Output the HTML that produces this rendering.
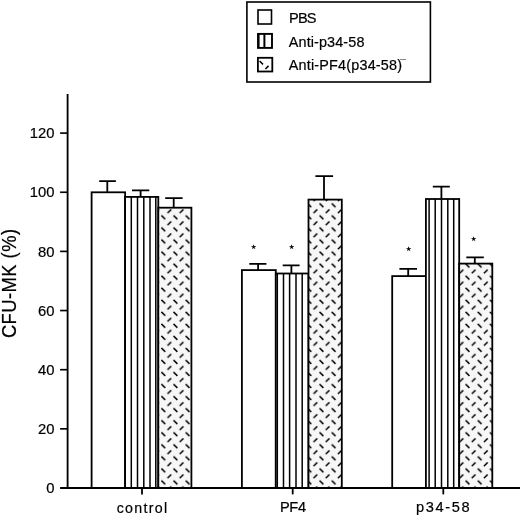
<!DOCTYPE html>
<html><head><meta charset="utf-8"><title>CFU-MK chart</title>
<style>html,body{margin:0;padding:0;background:#fff}svg{display:block}text{font-family:"Liberation Sans",sans-serif;fill:#000;stroke:#000;stroke-width:0.2px}</style>
</head><body>
<svg width="520" height="516" viewBox="0 0 520 516">
<rect x="0" y="0" width="520" height="516" fill="#fff"/>
<defs><pattern id="hb" patternUnits="userSpaceOnUse" x="160.10" y="208.20" width="12.17" height="12.05">
<path d="M7.40 4.90L11.10 1.30M1.30 7.30L5.10 11.00" stroke="#000" stroke-width="1.5" fill="none"/>
</pattern></defs>
<rect x="91.6" y="192.3" width="33.50" height="295.70" fill="#fff" stroke="#000" stroke-width="1.8"/>
<path d="M107.3 192.3V181.1M99.2 181.1H115.9" stroke="#000" stroke-width="1.8" fill="none"/>
<rect x="125.1" y="196.9" width="33.20" height="291.10" fill="#fff" stroke="#000" stroke-width="1.8"/>
<line x1="131.3" y1="196.9" x2="131.3" y2="488.0" stroke="#000" stroke-width="1.5"/>
<line x1="137.5" y1="196.9" x2="137.5" y2="488.0" stroke="#000" stroke-width="1.5"/>
<line x1="143.8" y1="196.9" x2="143.8" y2="488.0" stroke="#000" stroke-width="1.5"/>
<line x1="150.0" y1="196.9" x2="150.0" y2="488.0" stroke="#000" stroke-width="1.5"/>
<line x1="155.8" y1="196.9" x2="155.8" y2="488.0" stroke="#000" stroke-width="1.5"/>
<path d="M140.6 196.9V190.3M132.0 190.3H149.3" stroke="#000" stroke-width="1.8" fill="none"/>
<rect x="158.3" y="207.7" width="33.10" height="280.30" fill="#f7f7f7"/>
<rect x="158.3" y="207.7" width="33.10" height="280.30" fill="url(#hb)" stroke="#000" stroke-width="1.8"/>
<path d="M173.7 207.7V198.2M165.2 198.2H182.6" stroke="#000" stroke-width="1.8" fill="none"/>
<rect x="241.9" y="270.1" width="33.90" height="217.90" fill="#fff" stroke="#000" stroke-width="1.8"/>
<path d="M258.1 270.1V263.8M249.3 263.8H266.4" stroke="#000" stroke-width="1.8" fill="none"/>
<rect x="275.8" y="273.5" width="32.70" height="214.50" fill="#fff" stroke="#000" stroke-width="1.8"/>
<line x1="277.3" y1="273.5" x2="277.3" y2="488.0" stroke="#000" stroke-width="1.5"/>
<line x1="283.5" y1="273.5" x2="283.5" y2="488.0" stroke="#000" stroke-width="1.5"/>
<line x1="289.6" y1="273.5" x2="289.6" y2="488.0" stroke="#000" stroke-width="1.5"/>
<line x1="296.0" y1="273.5" x2="296.0" y2="488.0" stroke="#000" stroke-width="1.5"/>
<line x1="302.2" y1="273.5" x2="302.2" y2="488.0" stroke="#000" stroke-width="1.5"/>
<path d="M291.4 273.5V265.3M282.7 265.3H299.6" stroke="#000" stroke-width="1.8" fill="none"/>
<rect x="308.5" y="199.6" width="33.30" height="288.40" fill="#f7f7f7"/>
<rect x="308.5" y="199.6" width="33.30" height="288.40" fill="url(#hb)" stroke="#000" stroke-width="1.8"/>
<path d="M324.0 199.6V176.1M315.4 176.1H333.1" stroke="#000" stroke-width="1.8" fill="none"/>
<rect x="392.2" y="276.1" width="33.70" height="211.90" fill="#fff" stroke="#000" stroke-width="1.8"/>
<path d="M408.2 276.1V268.8M399.4 268.8H417.0" stroke="#000" stroke-width="1.8" fill="none"/>
<rect x="425.9" y="199.0" width="33.30" height="289.00" fill="#fff" stroke="#000" stroke-width="1.8"/>
<line x1="429.1" y1="199.0" x2="429.1" y2="488.0" stroke="#000" stroke-width="1.5"/>
<line x1="435.2" y1="199.0" x2="435.2" y2="488.0" stroke="#000" stroke-width="1.5"/>
<line x1="441.5" y1="199.0" x2="441.5" y2="488.0" stroke="#000" stroke-width="1.5"/>
<line x1="447.8" y1="199.0" x2="447.8" y2="488.0" stroke="#000" stroke-width="1.5"/>
<line x1="453.7" y1="199.0" x2="453.7" y2="488.0" stroke="#000" stroke-width="1.5"/>
<path d="M441.4 199.0V186.6M432.8 186.6H449.8" stroke="#000" stroke-width="1.8" fill="none"/>
<rect x="459.2" y="263.6" width="33.10" height="224.40" fill="#f7f7f7"/>
<rect x="459.2" y="263.6" width="33.10" height="224.40" fill="url(#hb)" stroke="#000" stroke-width="1.8"/>
<path d="M474.8 263.6V257.4M466.3 257.4H483.8" stroke="#000" stroke-width="1.8" fill="none"/>
<path d="M67.6 94V488.0M60.1 488.0H520" stroke="#000" stroke-width="1.85" fill="none"/>
<line x1="60.1" y1="428.85" x2="67.6" y2="428.85" stroke="#000" stroke-width="1.65"/>
<text x="54.4" y="433.95" font-size="14.8" text-anchor="end">20</text>
<line x1="60.1" y1="369.70" x2="67.6" y2="369.70" stroke="#000" stroke-width="1.65"/>
<text x="54.4" y="374.80" font-size="14.8" text-anchor="end">40</text>
<line x1="60.1" y1="310.55" x2="67.6" y2="310.55" stroke="#000" stroke-width="1.65"/>
<text x="54.4" y="315.65" font-size="14.8" text-anchor="end">60</text>
<line x1="60.1" y1="251.40" x2="67.6" y2="251.40" stroke="#000" stroke-width="1.65"/>
<text x="54.4" y="256.50" font-size="14.8" text-anchor="end">80</text>
<line x1="60.1" y1="192.25" x2="67.6" y2="192.25" stroke="#000" stroke-width="1.65"/>
<text x="54.4" y="197.35" font-size="14.8" text-anchor="end">100</text>
<line x1="60.1" y1="133.10" x2="67.6" y2="133.10" stroke="#000" stroke-width="1.65"/>
<text x="54.4" y="138.20" font-size="14.8" text-anchor="end">120</text>
<text x="54.4" y="493.10" font-size="14.8" text-anchor="end">0</text>
<line x1="142.0" y1="488.0" x2="142.0" y2="494.4" stroke="#000" stroke-width="1.8"/>
<line x1="292.7" y1="488.0" x2="292.7" y2="494.4" stroke="#000" stroke-width="1.8"/>
<line x1="443.3" y1="488.0" x2="443.3" y2="494.4" stroke="#000" stroke-width="1.8"/>
<text x="116.7" y="512.5" font-size="14.2" textLength="50.4" lengthAdjust="spacing">control</text>
<text x="280.0" y="511.5" font-size="14.6" textLength="26.0" lengthAdjust="spacing">PF4</text>
<text x="416.0" y="512.2" font-size="14.6" textLength="53.6" lengthAdjust="spacing">p34-58</text>
<text transform="translate(15.9 338.1) rotate(-90) scale(1 1.12)" font-size="18.4" textLength="109.2" lengthAdjust="spacing">CFU-MK (%)</text>
<text x="253.3" y="248.7" font-size="5.7" text-anchor="middle" stroke="none" font-family="DejaVu Sans, sans-serif">★</text>
<text x="291.3" y="248.7" font-size="5.7" text-anchor="middle" stroke="none" font-family="DejaVu Sans, sans-serif">★</text>
<text x="408.2" y="250.5" font-size="5.7" text-anchor="middle" stroke="none" font-family="DejaVu Sans, sans-serif">★</text>
<text x="473.3" y="240.6" font-size="5.7" text-anchor="middle" stroke="none" font-family="DejaVu Sans, sans-serif">★</text>
<rect x="246.9" y="2.0" width="183.5" height="80.0" fill="#fff" stroke="#000" stroke-width="1.6"/>
<rect x="258.0" y="10.0" width="13.5" height="14" fill="#fff" stroke="#000" stroke-width="1.6"/>
<rect x="258.0" y="33.9" width="14.0" height="14.0" fill="#fff" stroke="#000" stroke-width="1.9"/>
<path d="M259.0 33.9V47.9" stroke="#000" stroke-width="1.2"/>
<path d="M264.4 33.9V47.9" stroke="#000" stroke-width="2.0"/>
<rect x="257.9" y="57.8" width="14.4" height="13.7" fill="#fff" stroke="#000" stroke-width="1.8"/>
<path d="M259.6 61.0L263 64.4M265.4 69.0L268.5 65.9" stroke="#000" stroke-width="1.5"/>
<text x="289.0" y="22.8" font-size="14.6" textLength="27.6" lengthAdjust="spacing">PBS</text>
<text x="288.8" y="46.9" font-size="14.4" textLength="75.6" lengthAdjust="spacing">Anti-p34-58</text>
<text x="288.8" y="70.3" font-size="14.4" textLength="113.2" lengthAdjust="spacing">Anti-PF4(p34-58)</text>
<text x="400.2" y="67.6" font-size="10" stroke-width="0.9">¯</text>
</svg></body></html>
